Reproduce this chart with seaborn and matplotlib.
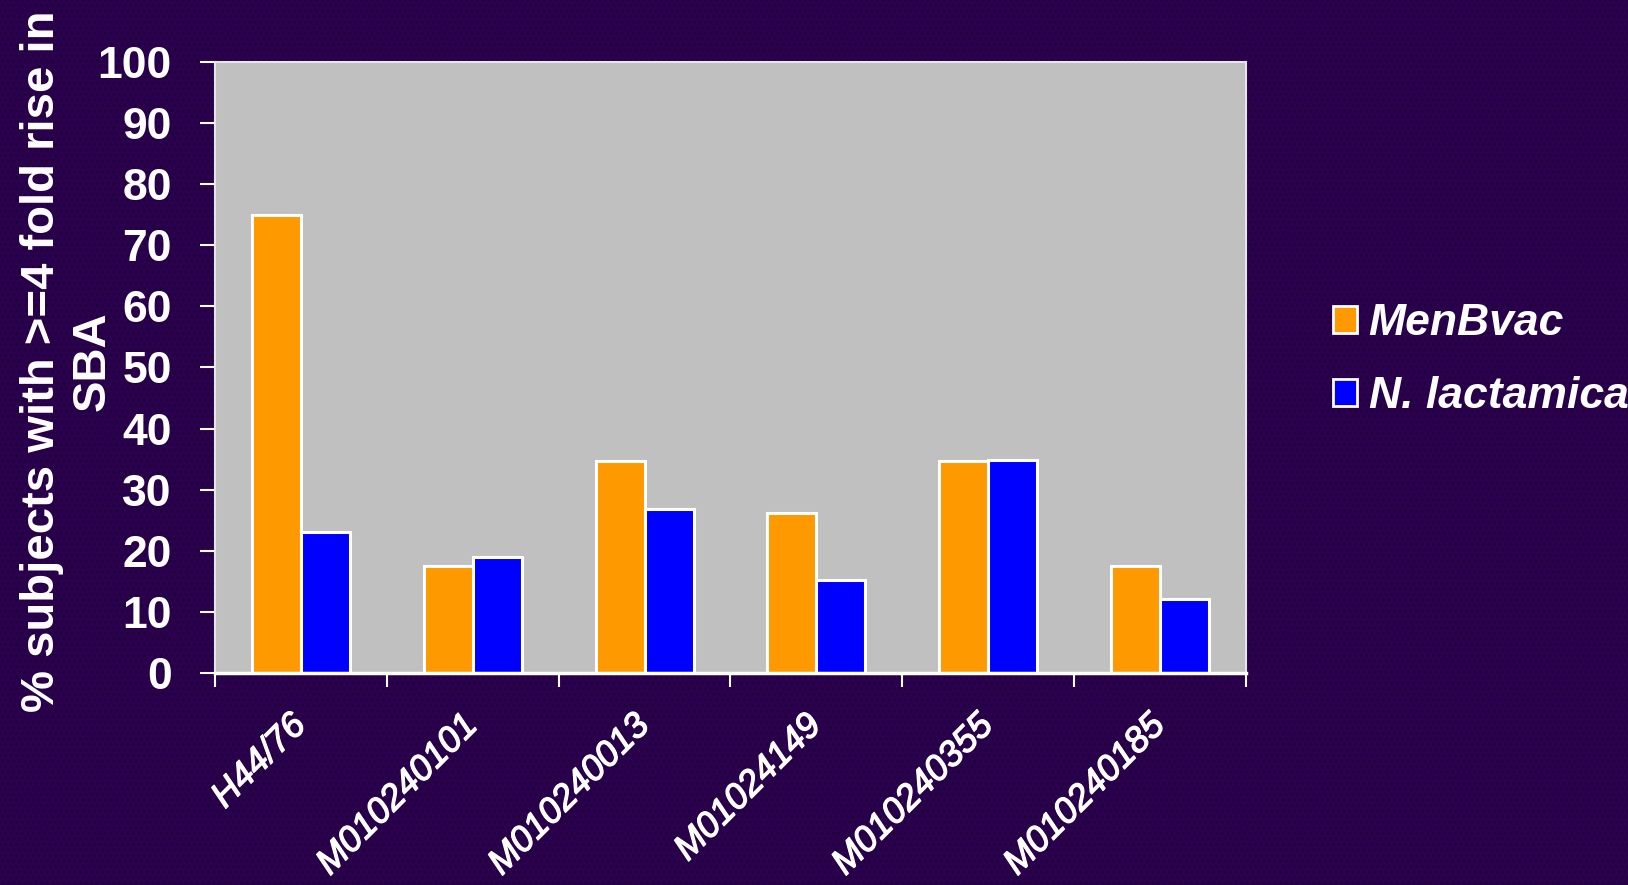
import matplotlib
matplotlib.use("Agg")
import matplotlib.pyplot as plt
import matplotlib.transforms as mtransforms
import matplotlib.patheffects as pe
from matplotlib.patches import Rectangle
import seaborn as sns
import pandas as pd
from matplotlib.ticker import FixedLocator

categories = ["H44/76", "M010240101", "M010240013", "M01024149", "M010240355", "M010240185"]
menbvac = [75.0, 17.5, 34.7, 26.2, 34.7, 17.5]
nlactamica = [23.1, 19.0, 26.9, 15.3, 34.9, 12.1]
series_names = ["MenBvac", "N. lactamica"]
yticks = [0, 10, 20, 30, 40, 50, 60, 70, 80, 90, 100]

df = pd.DataFrame({
    "strain": categories * 2,
    "value": menbvac + nlactamica,
    "group": [series_names[0]] * len(categories) + [series_names[1]] * len(categories),
})

sns.set_theme(style="white")
plt.rcParams["font.family"] = ["Liberation Sans", "DejaVu Sans"]
plt.rcParams["hatch.linewidth"] = 1.2

bg = "#2B004E"
fig = plt.figure(figsize=(16.28, 8.85), dpi=100, facecolor=bg)
W, H = 1628, 885
fig.patches.append(Rectangle((0, 0), 1, 1, transform=fig.transFigure, facecolor=bg,
                             edgecolor="#1E0038", hatch="...", linewidth=0, zorder=-5))
ax = fig.add_axes([215 / W, 1 - 673 / H, (1246 - 215) / W, (673 - 62) / H])
ax.set_facecolor("#C0C0C0")

sns.barplot(data=df, x="strain", y="value", hue="group", order=categories,
            hue_order=series_names, palette=["#FF9900", "#0000FF"],
            width=0.57, edgecolor="white", linewidth=2.2, saturation=1,
            ax=ax, legend=True)

ax.set_ylim(0, 100)
ax.set_xlim(-0.5, len(categories) - 0.5)
ax.set_yticks(yticks)
ax.set_yticklabels([str(v) for v in yticks], fontsize=32, fontweight="bold", color="white")
ax.tick_params(axis="y", length=11, width=1.5, color="white", pad=20, left=True, direction="out")

ax.set_xticks(range(len(categories)))
ax.set_xticklabels(categories, rotation=45, ha="right", rotation_mode="anchor",
                   fontsize=26, fontstyle="italic", color="white")
ax.tick_params(axis="x", which="major", length=0, pad=25)
offset = mtransforms.ScaledTranslation(-9 / 72, 0, fig.dpi_scale_trans)
for lab in ax.get_xticklabels():
    lab.set_transform(lab.get_transform() + offset)
    lab.set_path_effects([pe.withStroke(linewidth=0.9, foreground="white")])
ax.xaxis.set_minor_locator(FixedLocator([i - 0.5 for i in range(len(categories) + 1)]))
ax.tick_params(axis="x", which="minor", length=10, width=1.5, color="white", bottom=True, direction="out")

for s in ["top", "right", "left"]:
    ax.spines[s].set_color("#E6E6E6")
    ax.spines[s].set_linewidth(1.5)
ax.spines["bottom"].set_color("white")
ax.spines["bottom"].set_linewidth(2.5)

ax.set_xlabel("")
ax.set_ylabel("% subjects with >=4 fold rise in\nSBA", fontsize=34, fontweight="bold",
              color="white", linespacing=1.2)
ax.yaxis.set_label_coords(-0.097, 0.51)

handles, labels = ax.get_legend_handles_labels()
leg = fig.legend(handles, labels, loc="center left", bbox_to_anchor=(1333 / W, 1 - 360 / H),
                 frameon=False, prop={"family": "Liberation Sans", "weight": "bold",
                                      "style": "italic", "size": 32},
                 handlelength=0.55, handleheight=0.55, handletextpad=0.25, labelspacing=0.72,
                 borderpad=0, borderaxespad=0, labelcolor="white")
for h in leg.legend_handles:
    h.set_edgecolor("white")
    h.set_linewidth(2)
if ax.get_legend():
    ax.get_legend().remove()

fig.savefig("out.png", dpi=100, facecolor=bg)
